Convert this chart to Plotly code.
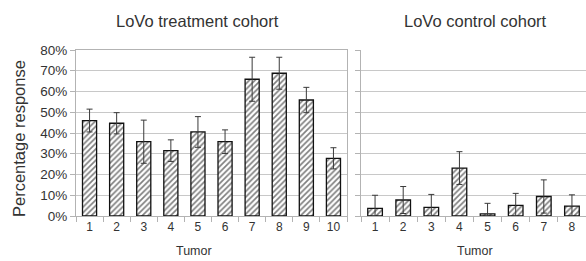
import plotly.graph_objects as go

# Data (percent response)
treat_tumors = ["1", "2", "3", "4", "5", "6", "7", "8", "9", "10"]
treat_values = [46.0, 44.7, 35.8, 31.5, 40.5, 35.8, 65.9, 68.8, 55.9, 27.8]
treat_errors = [5.5, 5.1, 10.4, 5.2, 7.4, 5.7, 10.6, 7.7, 6.1, 5.1]

ctrl_tumors = ["1", "2", "3", "4", "5", "6", "7", "8"]
ctrl_values = [3.7, 7.7, 4.2, 23.1, 1.0, 5.1, 9.4, 4.8]
ctrl_errors = [6.3, 6.5, 6.2, 7.9, 5.1, 5.8, 8.0, 5.4]

y_ticks = [0, 10, 20, 30, 40, 50, 60, 70, 80]
y_ticklabels = [f"{v}%" for v in y_ticks]

W, H = 586, 261
FONT = "Liberation Sans, Arial, sans-serif"
TXT = "#333333"
GRID = "#c8c8c8"
AX = "#b3b3b3"


def px_x(p):
    return p / W


def px_y(p):
    return 1 - p / H


bar_style = dict(
    marker=dict(
        color="white",
        line=dict(color="#111111", width=1.3),
        pattern=dict(shape="/", fgcolor="#000000", bgcolor="white", size=4, solidity=0.42),
    ),
    width=0.52,
    showlegend=False,
)

fig = go.Figure()
fig.add_trace(go.Bar(
    x=treat_tumors, y=[v / 100 for v in treat_values],
    error_y=dict(type="data", array=[e / 100 for e in treat_errors], color="#3a3a3a", thickness=1, width=3),
    xaxis="x", yaxis="y", **bar_style))
fig.add_trace(go.Bar(
    x=ctrl_tumors, y=[v / 100 for v in ctrl_values],
    error_y=dict(type="data", array=[e / 100 for e in ctrl_errors], color="#3a3a3a", thickness=1, width=3),
    xaxis="x2", yaxis="y2", **bar_style))

ydom = [px_y(216), px_y(50)]
common_x = dict(
    type="category", tickson="boundaries", ticks="outside", ticklen=5, tickcolor=AX,
    showline=True, linecolor=AX, linewidth=1, showgrid=False, automargin=False,
    tickfont=dict(family=FONT, size=12, color=TXT), fixedrange=True,
)
common_y = dict(
    range=[0, 0.8], tickvals=[v / 100 for v in y_ticks], ticktext=y_ticklabels,
    showgrid=True, gridcolor=GRID, gridwidth=1, zeroline=False, automargin=False,
    showline=True, linecolor=AX, linewidth=1, ticks="outside", ticklen=5, tickcolor=AX,
    tickfont=dict(family=FONT, size=13.5, color=TXT), domain=ydom, fixedrange=True,
)

fig.update_layout(
    width=W, height=H, autosize=False,
    margin=dict(l=0, r=0, t=0, b=0, pad=0, autoexpand=False),
    paper_bgcolor="white", plot_bgcolor="white",
    bargap=0.48,
    xaxis=dict(domain=[px_x(76), px_x(347)], anchor="y", mirror=True, **common_x),
    yaxis=dict(anchor="x", mirror=True, showticklabels=True, **common_y),
    xaxis2=dict(domain=[px_x(361), px_x(586)], anchor="y2", **common_x),
    yaxis2=dict(anchor="x2", showticklabels=False, **common_y),
    annotations=[
        dict(text="LoVo treatment cohort", x=px_x(197), y=px_y(21), xref="paper", yref="paper",
             xanchor="center", yanchor="middle", showarrow=False,
             font=dict(family=FONT, size=16.5, color=TXT)),
        dict(text="LoVo control cohort", x=px_x(475), y=px_y(21), xref="paper", yref="paper",
             xanchor="center", yanchor="middle", showarrow=False,
             font=dict(family=FONT, size=16.5, color=TXT)),
        dict(text="Percentage response", x=px_x(19), y=px_y(139), xref="paper", yref="paper",
             xanchor="center", yanchor="middle", showarrow=False, textangle=-90,
             font=dict(family=FONT, size=16.5, color=TXT)),
        dict(text="Tumor", x=px_x(194), y=px_y(251), xref="paper", yref="paper",
             xanchor="center", yanchor="middle", showarrow=False,
             font=dict(family=FONT, size=12.5, color=TXT)),
        dict(text="Tumor", x=px_x(475), y=px_y(251), xref="paper", yref="paper",
             xanchor="center", yanchor="middle", showarrow=False,
             font=dict(family=FONT, size=12.5, color=TXT)),
    ],
)

fig.write_html("out.html", config={"displayModeBar": False},
               post_script="document.body.style.margin='0';")
